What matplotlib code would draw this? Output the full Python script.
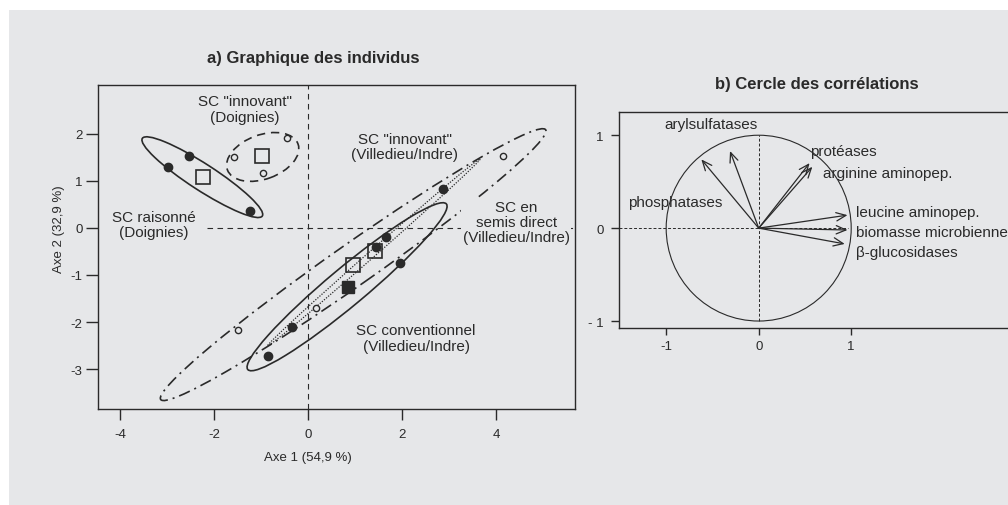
import numpy as np
import matplotlib
matplotlib.use("Agg")
import matplotlib.pyplot as plt
from matplotlib.patches import Ellipse, Rectangle, Circle

plt.rcParams["font.family"] = ["Liberation Sans", "DejaVu Sans"]
plt.rcParams["axes.unicode_minus"] = False

BG = "#e6e7e9"
INK = "#2a2a2a"

# a) individuals (axis 1, axis 2)
raisonne_x = [-2.98, -2.53, -1.23]
raisonne_y = [1.30, 1.53, 0.36]
innov_doi_x = [-1.57, -0.45, -0.96]
innov_doi_y = [1.51, 1.91, 1.17]
innov_vil_x = [4.15, -1.49, 0.17]
innov_vil_y = [1.53, -2.17, -1.70]
semis_x = [2.87, 1.66, -0.34]
semis_y = [0.83, -0.19, -2.11]
conv_x = [1.45, 1.96, -0.85]
conv_y = [-0.40, -0.74, -2.72]

# group centroids (squares)
centre_open_x = [-2.23, -0.98, 0.96, 1.43]
centre_open_y = [1.08, 1.53, -0.79, -0.49]
centre_filled_x = [0.85]
centre_filled_y = [-1.26]

# confidence ellipses: centre x, centre y, semi-major, semi-minor, angle (deg)
ell_raisonne = (-2.25, 1.08, 1.52, 0.28, -32.9)
ell_innov_doi = (-0.965, 1.51, 0.80, 0.47, 20)
ell_innov_vil = (0.96, -0.78, 5.0, 0.44, 35)
ell_conv = (0.83, -1.25, 2.75, 0.40, 39.8)
ell_semis = (1.40, -0.52, 3.01, 0.07, 41.3)

# b) correlation circle
var_names = ["arylsulfatases", "phosphatases", "protéases", "arginine aminopep.",
             "leucine aminopep.", "biomasse microbienne", "β-glucosidases"]
var_x = [-0.31, -0.62, 0.55, 0.58, 0.96, 0.96, 0.93]
var_y = [0.83, 0.74, 0.70, 0.66, 0.14, -0.02, -0.17]

fig = plt.figure(figsize=(10.08, 5.06), dpi=100, facecolor="white")
fig.patches.append(Rectangle((9 / 1008, 0), 1, 1 - 11 / 506, transform=fig.transFigure,
                             facecolor=BG, edgecolor="none", zorder=-10))

# ---------------- panel a ----------------
ax = fig.add_axes([98 / 1008, 96 / 506, 477 / 1008, 324 / 506])
ax.set_facecolor(BG)
ax.set_xlim(-4.47, 5.68)
ax.set_ylim(-3.85, 3.04)

ax.axvline(0, color=INK, lw=0.8, ls=(0, (5, 4)), zorder=1)
ax.hlines(0, -2.15, 5.68, color=INK, lw=0.8, ls=(0, (5, 4)), zorder=1)

def ellipse(p, ls, lw=1.2):
    cx, cy, a, b, ang = p
    ax.add_patch(Ellipse((cx, cy), 2 * a, 2 * b, angle=ang, fill=False,
                         edgecolor=INK, lw=lw, ls=ls, zorder=2))

ellipse(ell_raisonne, "-")
ellipse(ell_innov_doi, (0, (5, 3.5)))
ellipse(ell_innov_vil, (0, (7, 3, 1.2, 3)))
ellipse(ell_conv, "-")
ellipse(ell_semis, (0, (1, 1.2)), lw=0.9)

filled = dict(ls="none", marker="o", ms=6, color=INK, zorder=4)
hollow = dict(ls="none", marker="o", ms=4.5, mfc=BG, mec=INK, mew=1, zorder=4)
ax.plot(raisonne_x, raisonne_y, **filled)
ax.plot(semis_x, semis_y, **filled)
ax.plot(conv_x, conv_y, **filled)
ax.plot(innov_doi_x, innov_doi_y, **hollow)
ax.plot(innov_vil_x, innov_vil_y, **hollow)
ax.plot(centre_open_x, centre_open_y, ls="none", marker="s", ms=9.5,
        mfc="none", mec=INK, mew=1.2, zorder=5)
ax.plot(centre_filled_x, centre_filled_y, ls="none", marker="s", ms=8.5,
        color=INK, zorder=5)

lab = dict(ha="center", va="center", fontsize=11, color=INK, linespacing=1.1, zorder=6)
mask = dict(facecolor=BG, edgecolor="none", pad=1)
ax.text(-1.34, 2.53, 'SC "innovant"\n(Doignies)', **lab)
ax.text(2.06, 1.74, 'SC "innovant"\n(Villedieu/Indre)', **lab)
ax.text(-3.28, 0.07, "SC raisonné\n(Doignies)", bbox=mask, **lab)
ax.text(4.43, 0.13, "SC en\nsemis direct\n(Villedieu/Indre)", bbox=mask, **lab)
ax.text(2.30, -2.34, "SC conventionnel\n(Villedieu/Indre)", **lab)

ax.set_xticks([-4, -2, 0, 2, 4])
ax.set_yticks([-3, -2, -1, 0, 1, 2])
ax.tick_params(axis="x", length=8, width=1, color=INK, pad=6, labelsize=9.5, labelcolor=INK)
ax.tick_params(axis="y", length=9, width=1, color=INK, pad=2, labelsize=9.5, labelcolor=INK)
for s in ax.spines.values():
    s.set_color(INK)
    s.set_linewidth(1)

fig.text(308 / 1008, 1 - 458 / 506, "Axe 1 (54,9 %)", ha="center", va="center",
         fontsize=9.5, color=INK)
fig.text(59 / 1008, 1 - 229 / 506, "Axe 2 (32,9 %)", ha="center", va="center",
         rotation=90, fontsize=9.5, color=INK)
fig.text(313 / 1008, 1 - 58 / 506, "a) Graphique des individus", ha="center", va="center",
         fontsize=12, fontweight="bold", color=INK)

# ---------------- panel b ----------------
bx = fig.add_axes([619 / 1008, 177 / 506, 420 / 1008, 216 / 506])
bx.set_facecolor(BG)
bx.set_xlim(-1.51, 3.03)
bx.set_ylim(-1.075, 1.25)
bx.add_patch(Circle((0, 0), 1, fill=False, edgecolor=INK, lw=0.8, zorder=2))
bx.hlines(0, -1.51, 0.97, color=INK, lw=0.7, ls=(0, (3, 2)), zorder=1)
bx.vlines(0, -1, 1, color=INK, lw=0.7, ls=(0, (3, 2)), zorder=1)
for x, y in zip(var_x, var_y):
    bx.annotate("", xy=(x, y), xytext=(0, 0),
                arrowprops=dict(arrowstyle="->,head_length=0.7,head_width=0.3",
                                color=INK, lw=0.9, shrinkA=0, shrinkB=0), zorder=3)

vlab = dict(fontsize=11, color=INK, va="center")
bx.text(-0.52, 1.12, var_names[0], ha="center", **vlab)
bx.text(-0.90, 0.28, var_names[1], ha="center", **vlab)
bx.text(0.56, 0.83, var_names[2], ha="left", **vlab)
bx.text(0.69, 0.59, var_names[3], ha="left", **vlab)
bx.text(1.05, 0.17, var_names[4], ha="left", **vlab)
bx.text(1.05, -0.04, var_names[5], ha="left", **vlab)
bx.text(1.05, -0.26, var_names[6], ha="left", **vlab)

bx.set_xticks([-1, 0, 1])
bx.set_xticklabels(["-1", "0", "1"])
bx.set_yticks([-1, 0, 1])
bx.set_yticklabels(["- 1", "0", "1"])
bx.tick_params(axis="x", length=5, width=1, color=INK, pad=4, labelsize=9.5, labelcolor=INK)
bx.tick_params(axis="y", length=6, width=1, color=INK, pad=5, labelsize=9.5, labelcolor=INK)
for s in bx.spines.values():
    s.set_color(INK)
    s.set_linewidth(1)

fig.text(817 / 1008, 1 - 85 / 506, "b) Cercle des corrélations", ha="center", va="center",
         fontsize=12, fontweight="bold", color=INK)

fig.savefig("out.png", dpi=100, facecolor="white")
